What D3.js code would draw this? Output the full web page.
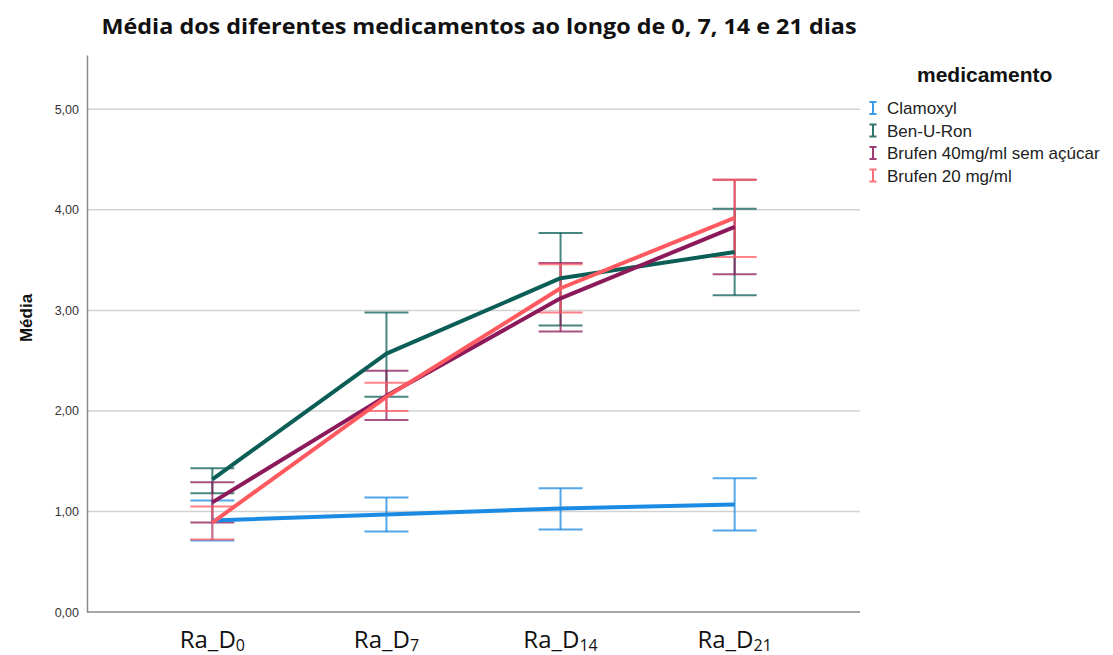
<!DOCTYPE html>
<html>
<head>
<meta charset="utf-8">
<script src="https://cdnjs.cloudflare.com/ajax/libs/d3/7.8.5/d3.min.js"></script>
<style>
  body { margin: 0; background: #fff; }
  svg { display: block; }
</style>
</head>
<body>
<div id="chart"></div>
<script>
var width = 1113,
    height = 655;

// data
var days = ["0", "7", "14", "21"];
var medicamentos = ["Clamoxyl", "Ben-U-Ron", "Brufen 40mg/ml sem açúcar", "Brufen 20 mg/ml"];
var cores = ["#1a8ae3", "#0b5e56", "#8c1a5b", "#ff5a60"];

var clamoxylMedia = [0.91, 0.97, 1.03, 1.07];
var clamoxylBaixo = [0.71, 0.80, 0.82, 0.81];
var clamoxylAlto  = [1.11, 1.14, 1.23, 1.33];

var benuronMedia = [1.32, 2.57, 3.32, 3.58];
var benuronBaixo = [1.18, 2.14, 2.85, 3.15];
var benuronAlto  = [1.43, 2.98, 3.77, 4.01];

var brufen40Media = [1.09, 2.15, 3.12, 3.83];
var brufen40Baixo = [0.89, 1.91, 2.79, 3.36];
var brufen40Alto  = [1.29, 2.40, 3.47, 4.30];

var brufen20Media = [0.89, 2.14, 3.22, 3.92];
var brufen20Baixo = [0.72, 2.00, 2.98, 3.53];
var brufen20Alto  = [1.05, 2.28, 3.46, 4.30];

var yTicks = [0, 1, 2, 3, 4, 5];

var series = [
    {nome: medicamentos[0], cor: cores[0], media: clamoxylMedia, baixo: clamoxylBaixo, alto: clamoxylAlto},
    {nome: medicamentos[1], cor: cores[1], media: benuronMedia, baixo: benuronBaixo, alto: benuronAlto},
    {nome: medicamentos[2], cor: cores[2], media: brufen40Media, baixo: brufen40Baixo, alto: brufen40Alto},
    {nome: medicamentos[3], cor: cores[3], media: brufen20Media, baixo: brufen20Baixo, alto: brufen20Alto}
];

var margin = {left: 87, right: 253, top: 55, bottom: 43};

var svg = d3.select("#chart")
    .append("svg")
    .attr("width", width)
    .attr("height", height);

var x = d3.scalePoint()
    .domain(days)
    .range([margin.left, width - margin.right])
    .padding(0.72);

var y = d3.scaleLinear()
    .domain([0, 5.54])
    .range([height - margin.bottom, margin.top]);

// gridlines
svg.selectAll(".grid")
    .data(yTicks.filter(function(d) { return d > 0; }))
    .enter().append("line")
    .attr("x1", margin.left)
    .attr("x2", width - margin.right)
    .attr("y1", function(d) { return y(d); })
    .attr("y2", function(d) { return y(d); })
    .attr("stroke", "#d2d2d2")
    .attr("stroke-width", 1.5);

// y axis
var yAxis = d3.axisLeft(y)
    .tickValues(yTicks)
    .tickSize(0)
    .tickPadding(8)
    .tickFormat(function(d) { return d3.format(".2f")(d).replace(".", ","); });

var gy = svg.append("g")
    .attr("transform", "translate(" + margin.left + ",0)")
    .call(yAxis);
gy.select(".domain").attr("stroke", "#8a8a8a").attr("stroke-width", 1.5);
gy.selectAll("text")
    .attr("font-family", "Liberation Sans, Arial, sans-serif")
    .attr("font-size", 12.5)
    .attr("fill", "#333");

// x axis line
svg.append("line")
    .attr("x1", margin.left)
    .attr("x2", width - margin.right)
    .attr("y1", y(0))
    .attr("y2", y(0))
    .attr("stroke", "#8a8a8a")
    .attr("stroke-width", 1.5);

// x labels with subscript
var xl = svg.selectAll(".xlab")
    .data(days)
    .enter().append("text")
    .attr("x", function(d) { return x(d); })
    .attr("y", 648)
    .attr("text-anchor", "middle")
    .attr("font-family", "Open Sans, sans-serif")
    .attr("font-size", 24)
    .attr("fill", "#111");
xl.append("tspan").text("Ra_D");
xl.append("tspan")
    .attr("font-size", 16)
    .attr("dy", 3)
    .text(function(d) { return d; });

// error bars
var capW = 22;
series.forEach(function(s) {
    var g = svg.append("g")
        .attr("stroke", s.cor)
        .attr("stroke-opacity", 0.75)
        .attr("stroke-width", 2);
    days.forEach(function(d, i) {
        var cx = x(d);
        g.append("line")
            .attr("x1", cx).attr("x2", cx)
            .attr("y1", y(s.baixo[i])).attr("y2", y(s.alto[i]));
        g.append("line")
            .attr("x1", cx - capW).attr("x2", cx + capW)
            .attr("y1", y(s.baixo[i])).attr("y2", y(s.baixo[i]));
        g.append("line")
            .attr("x1", cx - capW).attr("x2", cx + capW)
            .attr("y1", y(s.alto[i])).attr("y2", y(s.alto[i]));
    });
});

// mean lines
var line = d3.line()
    .x(function(d, i) { return x(days[i]); })
    .y(function(d) { return y(d); });

series.forEach(function(s) {
    svg.append("path")
        .datum(s.media)
        .attr("d", line)
        .attr("fill", "none")
        .attr("stroke", s.cor)
        .attr("stroke-width", 4)
        .attr("stroke-linejoin", "round");
});

// title
var title = svg.append("text")
    .attr("x", 479)
    .attr("y", 34)
    .attr("text-anchor", "middle")
    .attr("font-family", "Open Sans, sans-serif")
    .attr("font-weight", "bold")
    .attr("font-size", 21)
    .attr("fill", "#111")
    .text("Média dos diferentes medicamentos ao longo de 0, 7, 14 e 21 dias");
if (title.node().getComputedTextLength() > 0) {
    title.attr("textLength", 755).attr("lengthAdjust", "spacingAndGlyphs");
}

// y axis title
svg.append("text")
    .attr("transform", "translate(32,318) rotate(-90)")
    .attr("text-anchor", "middle")
    .attr("font-family", "Liberation Sans, Arial, sans-serif")
    .attr("font-weight", "bold")
    .attr("font-size", 17)
    .attr("fill", "#111")
    .text("Média");

// legend
svg.append("text")
    .attr("x", 917)
    .attr("y", 82)
    .attr("font-family", "Liberation Sans, Arial, sans-serif")
    .attr("font-weight", "bold")
    .attr("font-size", 21)
    .attr("fill", "#111")
    .text("medicamento");

var leg = svg.selectAll(".leg")
    .data(series)
    .enter().append("g")
    .attr("transform", function(d, i) { return "translate(873," + (108 + i * 22.5) + ")"; });

leg.append("path")
    .attr("d", "M-3.5,-6H3.5M0,-6V6M-3.5,6H3.5")
    .attr("fill", "none")
    .attr("stroke", function(d) { return d.cor; })
    .attr("stroke-opacity", 0.85)
    .attr("stroke-width", 2);

leg.append("text")
    .attr("x", 14)
    .attr("y", 6)
    .attr("font-family", "Liberation Sans, Arial, sans-serif")
    .attr("font-size", 17)
    .attr("fill", "#222")
    .text(function(d) { return d.nome; });
</script>
</body>
</html>
